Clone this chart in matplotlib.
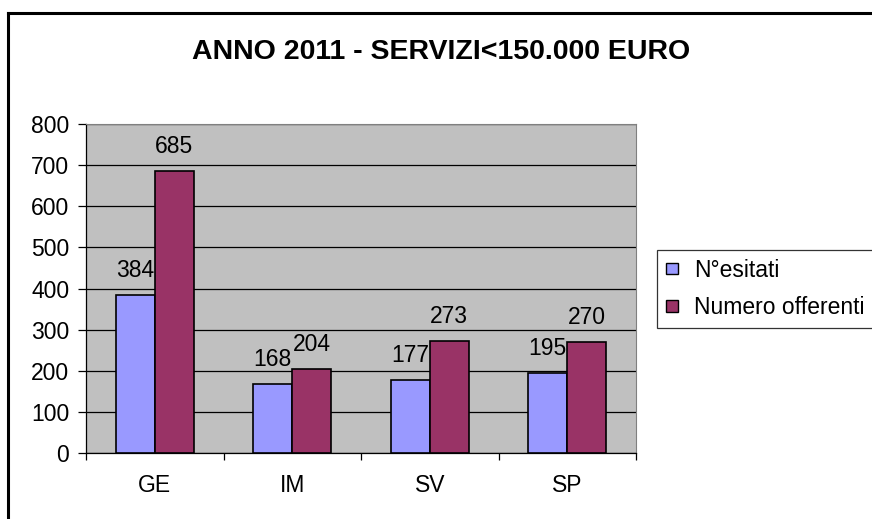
import numpy as np
import matplotlib.pyplot as plt
from matplotlib.lines import Line2D
from matplotlib.patches import Patch

categories = ['GE', 'IM', 'SV', 'SP']
esitati = [384, 168, 177, 195]
offerenti = [685, 204, 273, 270]
series_names = ['N°esitati', 'Numero offerenti']

plt.rcParams['font.family'] = ['Liberation Sans', 'DejaVu Sans']

fig = plt.figure(figsize=(8.72, 5.19), dpi=100)
ax = fig.add_axes([86 / 872, 1 - 453 / 519, 550 / 872, 329 / 519])
ax.set_facecolor('#C0C0C0')

x = np.arange(len(categories))
w = 0.285
b1 = ax.bar(x - w / 2, esitati, w, color='#9999FF', edgecolor='black', linewidth=1.2, zorder=3)
b2 = ax.bar(x + w / 2, offerenti, w, color='#993366', edgecolor='black', linewidth=1.2, zorder=3)

for bars, vals in ((b1, esitati), (b2, offerenti)):
    for r, v in zip(bars, vals):
        ax.annotate(str(v), (r.get_x() + r.get_width() / 2, v), xytext=(0, 9.5),
                    textcoords='offset points', ha='center', va='bottom', fontsize=16.5)

ax.set_xlim(-0.5, len(categories) - 0.5)
ax.set_ylim(0, 800)
ax.set_yticks(range(0, 801, 100))
ax.yaxis.grid(True, color='black', linewidth=0.9)
ax.set_axisbelow(True)

ax.set_xticks(x)
ax.set_xticklabels(categories, fontsize=16.5)
ax.set_xticks(np.arange(-0.5, len(categories)), minor=True)
ax.tick_params(axis='x', which='major', length=0, pad=15)
ax.tick_params(axis='x', which='minor', length=5, width=0.9, direction='out')
ax.tick_params(axis='y', length=6, width=0.9, direction='out', labelsize=16.5, pad=6)

for s in ('top', 'right'):
    ax.spines[s].set_color('#808080')
for s in ('left', 'bottom'):
    ax.spines[s].set_color('black')
    ax.spines[s].set_linewidth(0.9)

fig.text(441 / 872, 1 - 52 / 519, 'ANNO 2011 - SERVIZI<150.000 EURO', ha='center', va='center',
         fontsize=20.5, fontweight='bold')

handles = [Patch(facecolor='#9999FF', edgecolor='black'), Patch(facecolor='#993366', edgecolor='black')]
leg = fig.legend(handles, series_names, loc='upper left', bbox_to_anchor=(657 / 872, 1 - 250 / 519),
                 fontsize=16.5, frameon=True, fancybox=False, handlelength=0.55, handleheight=0.4,
                 handletextpad=0.7, borderpad=0.38, labelspacing=0.62, borderaxespad=0)
leg.get_frame().set_edgecolor('black')
leg.get_frame().set_linewidth(0.9)

# outer chart border (cropped: only left and top visible)
fig.add_artist(Line2D([7.5 / 872, 7.5 / 872], [0, 1 - 12.5 / 519], color='black', linewidth=2.2))
fig.add_artist(Line2D([7.5 / 872, 1], [1 - 12.5 / 519, 1 - 12.5 / 519], color='black', linewidth=2.2))

fig.savefig('out.png', dpi=100)
